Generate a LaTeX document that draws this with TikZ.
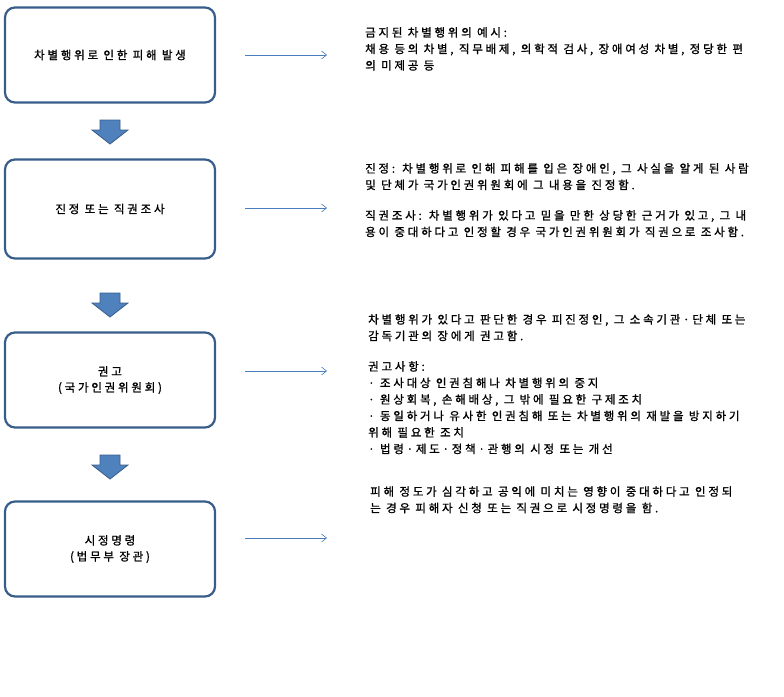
\documentclass[tikz,border=0pt]{standalone}
\usepackage{fontspec}
\newfontfamily\kr[LetterSpace=24,FakeBold=1.2]{Noto Sans CJK KR}
\usetikzlibrary{arrows.meta}
\begin{document}
\begin{tikzpicture}[x=1pt,y=-1pt,
  box/.style={draw=bx,line width=2.2pt,rounded corners=10pt,align=center,font=\kr\fontsize{11.5}{16}\selectfont},
  note/.style={anchor=north west,align=left,inner sep=0,font=\kr\fontsize{11.5}{16.5}\selectfont},
  thin/.style={draw=ar,-{Straight Barb[length=5pt,width=8pt]},line width=0.6pt},
  down/.style={fill=dn,draw=bx,line width=0.8pt}]
\definecolor{bx}{HTML}{385D8A}
\definecolor{dn}{HTML}{4F81BD}
\definecolor{ar}{HTML}{4A7EBB}
\useasboundingbox (0,0) rectangle (784,696);
\node[box,minimum width=210,minimum height=95] (b1) at (110,55) {차별행위로 인한 피해 발생};
\node[box,minimum width=210,minimum height=99] (b2) at (110,209) {진정 또는 직권조사};
\node[box,minimum width=210,minimum height=95] (b3) at (110,380) {권고\\(국가인권위원회)};
\node[box,minimum width=210,minimum height=95] (b4) at (110,549) {시정명령\\(법무부 장관)};
\foreach \y in {120,293,455}{
  \draw[down] (100,\y) -- (120,\y) -- (120,\y+10) -- (128,\y+10) -- (110,\y+24) -- (92,\y+10) -- (100,\y+10) -- cycle;}
\coordinate (s1) at (245,55); \coordinate (e1) at (327,55);
\coordinate (s2) at (245,208); \coordinate (e2) at (327,208);
\coordinate (s3) at (245,371); \coordinate (e3) at (327,371);
\coordinate (s4) at (245,538); \coordinate (e4) at (327,538);
\foreach \i in {1,...,4}{\draw[thin] (s\i) -- (e\i);}
\node[note] (t1) at (365,27) {금지된 차별행위의 예시:\\채용 등의 차별, 직무배제, 의학적 검사, 장애여성 차별, 정당한 편\\의 미제공 등};
\node[note] (t2) at (365,163) {진정: 차별행위로 인해 피해를 입은 장애인, 그 사실을 알게 된 사람\\및 단체가 국가인권위원회에 그 내용을 진정함.\\[14pt]직권조사: 차별행위가 있다고 믿을 만한 상당한 근거가 있고, 그 내\\용이 중대하다고 인정할 경우 국가인권위원회가 직권으로 조사함.};
\node[note] (t3) at (368,314) {차별행위가 있다고 판단한 경우 피진정인, 그 소속기관·단체 또는\\감독기관의 장에게 권고함.\\[14pt]권고사항:\\· 조사대상 인권침해나 차별행위의 중지\\· 원상회복, 손해배상, 그 밖에 필요한 구제조치\\· 동일하거나 유사한 인권침해 또는 차별행위의 재발을 방지하기\\위해 필요한 조치\\· 법령·제도·정책·관행의 시정 또는 개선};
\node[note] (t4) at (370,486) {피해 정도가 심각하고 공익에 미치는 영향이 중대하다고 인정되\\는 경우 피해자 신청 또는 직권으로 시정명령을 함.};
\end{tikzpicture}
\end{document}
